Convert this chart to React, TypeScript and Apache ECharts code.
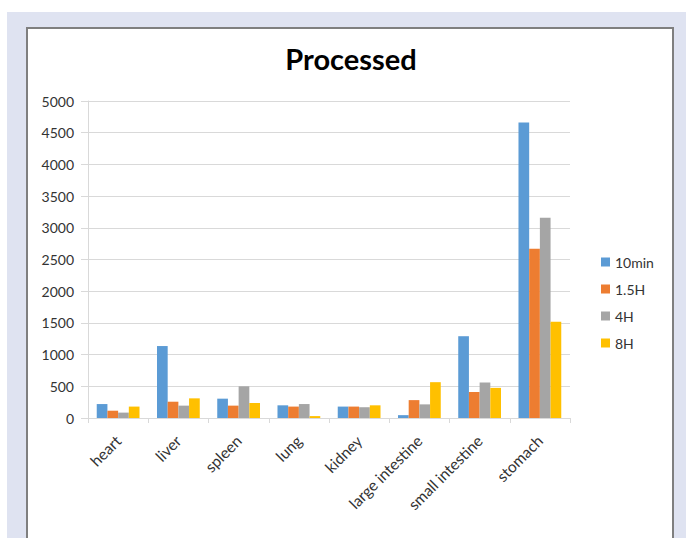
import React, { useEffect, useRef } from "react";
import * as echarts from "echarts";

const categories = ["heart", "liver", "spleen", "lung", "kidney", "large intestine", "small intestine", "stomach"];
const seriesNames = ["10min", "1.5H", "4H", "8H"];
const v10min = [220, 1135, 305, 200, 180, 45, 1290, 4660];
const v15H = [115, 257, 195, 180, 180, 282, 410, 2670];
const v4H = [85, 195, 500, 220, 170, 215, 560, 3160];
const v8H = [180, 310, 237, 30, 200, 565, 475, 1520];
const colors = ["#5B9BD5", "#ED7D31", "#A5A5A5", "#FFC000"];

const FONT = 'Lato, "Open Sans", "Noto Sans", sans-serif';

export default function App() {
  const ref = useRef<HTMLDivElement>(null);
  useEffect(() => {
    if (!ref.current) return;
    const chart = echarts.init(ref.current, undefined, { renderer: "svg" });
    const values = [v10min, v15H, v4H, v8H];
    chart.setOption({
      animation: false,
      textStyle: { fontFamily: FONT },
      graphic: [
        {
          type: "text",
          x: 351,
          y: 58,
          style: {
            text: "Processed",
            fontFamily: FONT,
            fontSize: 29,
            fontWeight: "bold",
            fill: "#000000",
            textAlign: "center",
            textVerticalAlign: "middle",
          },
        },
      ],
      legend: {
        orient: "vertical",
        left: 596,
        top: 250,
        itemWidth: 9,
        itemHeight: 9,
        itemGap: 13,
        icon: "rect",
        data: seriesNames,
        textStyle: { fontFamily: FONT, fontSize: 14, color: "#333333" },
      },
      grid: { left: 88, right: 116, top: 101, bottom: 120, containLabel: false },
      xAxis: {
        type: "category",
        data: categories,
        axisLine: { show: true, lineStyle: { color: "#d9d9d9", width: 1 } },
        axisTick: { show: true, length: 5, lineStyle: { color: "#d9d9d9" } },
        axisLabel: {
          interval: 0,
          rotate: 45,
          margin: 20,
          padding: [14, 0, 0, 0],
          fontFamily: FONT,
          fontSize: 15.5,
          color: "#333333",
        },
      },
      yAxis: {
        type: "value",
        min: 0,
        max: 5000,
        interval: 500,
        axisLine: { show: true, lineStyle: { color: "#d9d9d9", width: 1 } },
        axisTick: { show: true, length: 7, lineStyle: { color: "#d9d9d9" } },
        splitLine: { show: true, lineStyle: { color: "#d9d9d9", width: 1 } },
        axisLabel: {
          margin: 14,
          fontFamily: FONT,
          fontSize: 14,
          color: "#333333",
          formatter: (v: number) => String(v),
        },
      },
      series: seriesNames.map((name, i) => ({
        name,
        type: "bar",
        data: values[i],
        itemStyle: { color: colors[i] },
        barGap: "0%",
        barCategoryGap: "29%",
      })),
    });
    return () => chart.dispose();
  }, []);

  return (
    <div style={{ position: "fixed", left: 0, top: 0, width: 686, height: 538, background: "#ffffff", overflow: "hidden" }}>
      <div style={{ position: "absolute", left: 7, top: 12, width: 679, height: 526, background: "#dfe3f1" }} />
      <div
        style={{
          position: "absolute",
          left: 26,
          top: 27,
          width: 644,
          height: 520,
          background: "#ffffff",
          border: "2px solid #7f7f7f",
        }}
      />
      <div ref={ref} style={{ position: "absolute", left: 0, top: 0, width: 686, height: 538 }} />
    </div>
  );
}
